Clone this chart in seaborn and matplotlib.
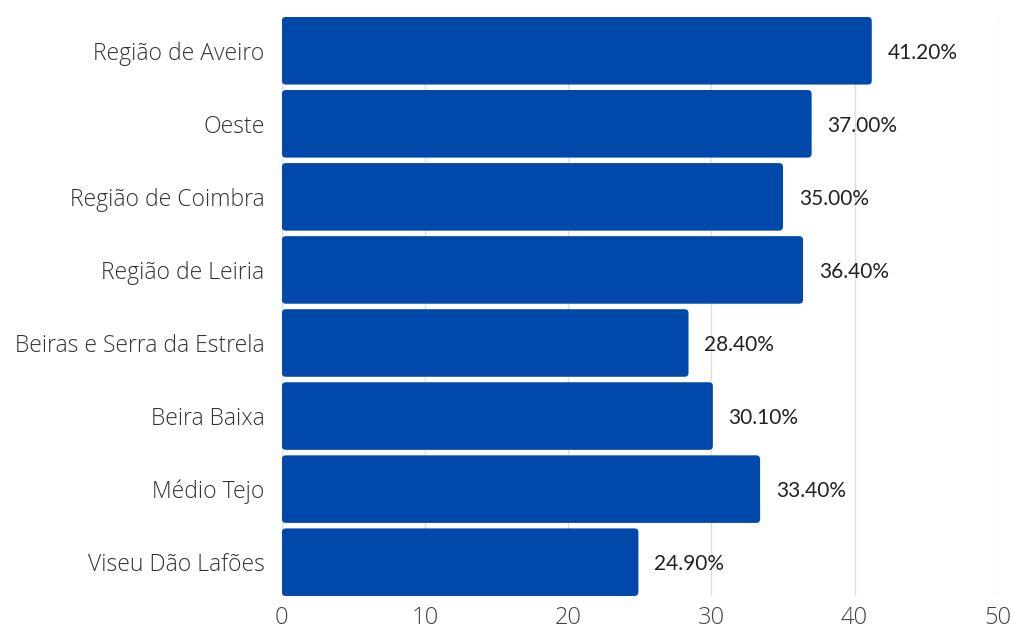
import matplotlib
matplotlib.use("Agg")
import matplotlib.pyplot as plt
from matplotlib.patches import FancyBboxPatch
import seaborn as sns
import pandas as pd

regions = [
    "Região de Aveiro",
    "Oeste",
    "Região de Coimbra",
    "Região de Leiria",
    "Beiras e Serra da Estrela",
    "Beira Baixa",
    "Médio Tejo",
    "Viseu Dão Lafões",
]
values = [41.2, 37.0, 35.0, 36.4, 28.4, 30.1, 33.4, 24.9]
x_ticks = [0, 10, 20, 30, 40, 50]

df = pd.DataFrame({"region": regions, "value": values})

sns.set_theme(style="white")
plt.rcParams["font.family"] = ["Open Sans", "DejaVu Sans"]

fig = plt.figure(figsize=(10.14, 6.28), dpi=100)
ax = fig.add_axes([0.278, 0.051, 0.706, 0.922])

bar_color = "#0049AA"
sns.barplot(data=df, y="region", x="value", orient="h", color=bar_color,
            width=0.925, saturation=1, ax=ax, zorder=2)

# swap the flat rectangles for slightly rounded ones
fig.canvas.draw()
px_per_x = ax.bbox.width / 50.0
px_per_y = ax.bbox.height / 7.925
aspect = px_per_x / px_per_y
for p in list(ax.patches):
    x0, y0 = p.get_x(), p.get_y()
    w, h = p.get_width(), p.get_height()
    r = 4.0 / px_per_x
    box = FancyBboxPatch((x0 + r, y0 + r * aspect), w - 2 * r, h - 2 * r * aspect,
                         boxstyle=f"round,pad={r},rounding_size={r}",
                         mutation_aspect=aspect,
                         facecolor=bar_color, edgecolor="none", zorder=2)
    p.remove()
    ax.add_patch(box)

ax.set_xlim(0, 50)
ax.set_ylim(7.4625, -0.4625)
ax.set_xticks(x_ticks)
ax.set_xticklabels([str(t) for t in x_ticks])
ax.xaxis.grid(True, color="#dddddd", linewidth=1, zorder=0)
ax.set_axisbelow(True)
for s in ax.spines.values():
    s.set_visible(False)
ax.set_xlabel("")
ax.set_ylabel("")
ax.tick_params(axis="x", length=0, pad=7, labelsize=17, labelcolor="#444444")
ax.tick_params(axis="y", length=0, pad=12.5, labelsize=16.5, labelcolor="#333333")
for lbl in ax.get_xticklabels() + ax.get_yticklabels():
    lbl.set_fontweight("light")

for i, v in enumerate(values):
    ax.text(v + 1.1, i + 0.03, f"{v:.2f}%", va="center", ha="left",
            fontsize=15, color="#222222",
            family=["Lato", "DejaVu Sans"])

fig.savefig("out.png", dpi=100, facecolor="white")
